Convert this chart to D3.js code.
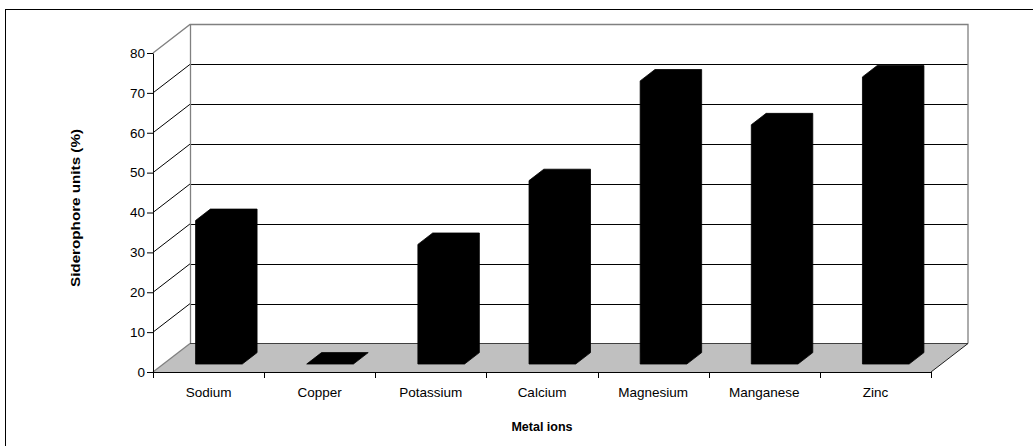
<!DOCTYPE html>
<html>
<head>
<meta charset="utf-8">
<script src="https://cdn.jsdelivr.net/npm/d3@7/dist/d3.min.js"></script>
<style>
  html, body { margin: 0; padding: 0; background: #fff; }
  svg { display: block; }
  text { font-family: "Liberation Sans", Arial, sans-serif; fill: #000; }
</style>
</head>
<body>
<svg id="chart" width="1033" height="446"></svg>
<script>
// Siderophore production in presence of different metal ions
const categories = ["Sodium", "Copper", "Potassium", "Calcium", "Magnesium", "Manganese", "Zinc"];
const values = [36, 0, 30, 46, 71, 60, 72];
const yTicks = [0, 10, 20, 30, 40, 50, 60, 70, 80];
const yTitle = "Siderophore units (%)";
const xTitle = "Metal ions";

const svg = d3.select("#chart");

// Front plane of the 3D box
const plotLeft = 153, plotRight = 931, plotBase = 372, plotTop = 53;
// Offset of the back wall relative to the front plane
const DX = 37, DY = -28.5;
// Bars sit between these depth fractions
const f1 = 0.28, f2 = 0.68;

const y = d3.scaleLinear().domain([0, 80]).range([plotBase, plotTop]);
const xCat = d3.scaleBand().domain(categories).range([plotLeft, plotRight]).padding(0);
const xBar = d3.scaleBand().domain(categories).range([plotLeft, plotRight])
  .paddingInner(0.58).paddingOuter(0.29);

// Outer frame (only top and left edges fall inside the view)
svg.append("rect")
  .attr("x", 5.5).attr("y", 9.5).attr("width", 2000).attr("height", 2000)
  .attr("fill", "none").attr("stroke", "#000").attr("stroke-width", 1);

const wallStroke = "#808080";
const pts = a => a.map(p => p.join(",")).join(" ");

// Floor
svg.append("polygon")
  .attr("points", pts([[plotLeft, plotBase], [plotRight, plotBase], [plotRight + DX, plotBase + DY], [plotLeft + DX, plotBase + DY]]))
  .attr("fill", "#c0c0c0").attr("stroke", "none");

// Side wall
svg.append("polygon")
  .attr("points", pts([[plotLeft, plotBase], [plotLeft, y(80)], [plotLeft + DX, y(80) + DY], [plotLeft + DX, plotBase + DY]]))
  .attr("fill", "#fff").attr("stroke", "none");

// Back wall
svg.append("rect")
  .attr("x", plotLeft + DX).attr("y", y(80) + DY)
  .attr("width", plotRight - plotLeft).attr("height", y(0) - y(80))
  .attr("fill", "#fff").attr("stroke", "none");

// Gridlines on back wall and side wall
const gridVals = yTicks.filter(v => v > 0 && v < 80);
const grid = svg.append("g").attr("stroke", "#000").attr("stroke-width", 1).attr("fill", "none");
grid.selectAll("line.back").data(gridVals).join("line")
  .attr("class", "back")
  .attr("x1", plotLeft + DX).attr("x2", plotRight + DX)
  .attr("y1", d => Math.round(y(d) + DY) + 0.5).attr("y2", d => Math.round(y(d) + DY) + 0.5);
grid.selectAll("line.side").data(gridVals).join("line")
  .attr("class", "side")
  .attr("x1", plotLeft).attr("x2", plotLeft + DX)
  .attr("y1", d => y(d)).attr("y2", d => y(d) + DY);

// Wall outlines
const edges = svg.append("g").attr("fill", "none").attr("stroke", wallStroke).attr("stroke-width", 1.3);
edges.append("polyline")
  .attr("points", pts([[plotLeft, y(80)], [plotLeft + DX, y(80) + DY], [plotRight + DX, y(80) + DY], [plotRight + DX, plotBase + DY]]));
edges.append("line")
  .attr("x1", plotLeft + DX + 0.5).attr("x2", plotLeft + DX + 0.5)
  .attr("y1", y(80) + DY).attr("y2", plotBase + DY);
edges.append("line")
  .attr("x1", plotLeft).attr("y1", plotBase).attr("x2", plotLeft + DX).attr("y2", plotBase + DY);
svg.append("line")
  .attr("x1", plotLeft + DX).attr("x2", plotRight + DX)
  .attr("y1", plotBase + DY).attr("y2", plotBase + DY)
  .attr("stroke", "#404040").attr("stroke-width", 1);
svg.append("line")
  .attr("x1", plotRight).attr("y1", plotBase).attr("x2", plotRight + DX).attr("y2", plotBase + DY)
  .attr("stroke", "#202020").attr("stroke-width", 1);

// 3D bars: front face, top and right side as one solid outline
const bars = svg.append("g");
bars.selectAll("polygon").data(categories.map((c, i) => ({ c, v: values[i] }))).join("polygon")
  .attr("points", d => {
    const x0 = xBar(d.c), w = xBar.bandwidth();
    const fx = DX * f1, fy = DY * f1, bx = DX * f2, by = DY * f2;
    const yt = y(d.v), yb = y(0);
    return pts([
      [x0 + fx, yb + fy],
      [x0 + fx, yt + fy],
      [x0 + bx, yt + by],
      [x0 + w + bx, yt + by],
      [x0 + w + bx, yb + by],
      [x0 + w + fx, yb + fy]
    ]);
  })
  .attr("fill", "#000").attr("stroke", "#000").attr("stroke-width", 0.8);

// Value axis
const yAxis = d3.axisLeft(y).tickValues(yTicks).tickSize(6).tickSizeOuter(0).tickPadding(2);
const gy = svg.append("g").attr("transform", `translate(${plotLeft},0)`).call(yAxis);
gy.select(".domain").attr("stroke", "#000");
gy.selectAll(".tick line").attr("stroke", "#000");
gy.selectAll("text").style("font-size", "13.5px").attr("font-family", null);

// Category axis
const xAxis = d3.axisBottom(xCat).tickSize(0).tickPadding(15);
const gx = svg.append("g").attr("transform", `translate(0,${plotBase})`).call(xAxis);
gx.select(".domain").attr("stroke", "#000");
gx.selectAll("text").style("font-size", "13.5px").attr("font-family", null);

// Category boundary ticks
const bounds = categories.map(c => xCat(c)).concat([plotRight]);
gx.selectAll("line.bound").data(bounds).join("line")
  .attr("class", "bound")
  .attr("x1", d => Math.round(d) + 0.5).attr("x2", d => Math.round(d) + 0.5)
  .attr("y1", 0).attr("y2", 6)
  .attr("stroke", "#000");

// Axis titles
svg.append("text")
  .attr("x", (plotLeft + plotRight) / 2).attr("y", 431)
  .attr("text-anchor", "middle")
  .style("font-size", "12.5px").style("font-weight", "bold")
  .text(xTitle);

svg.append("text")
  .attr("transform", "translate(80,208) rotate(-90)")
  .attr("text-anchor", "middle")
  .style("font-size", "13px").style("font-weight", "bold")
  .attr("textLength", 158).attr("lengthAdjust", "spacingAndGlyphs")
  .text(yTitle);
</script>
</body>
</html>
